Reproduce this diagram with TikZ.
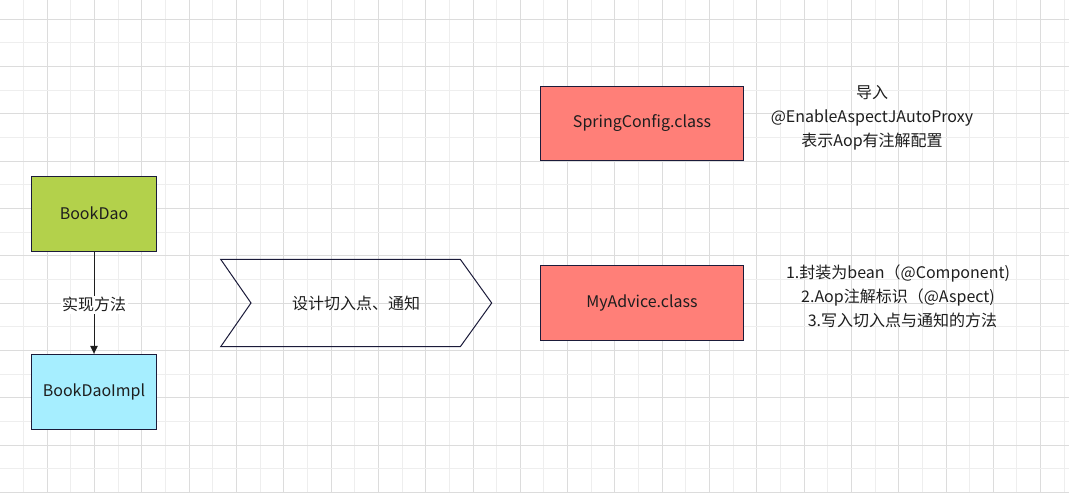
\documentclass[tikz,border=0pt]{standalone}
\usepackage{fontspec}
\setmainfont{Noto Sans CJK SC}
\usetikzlibrary{arrows.meta}
\definecolor{gridlight}{HTML}{EEEEEE}
\definecolor{griddark}{HTML}{DCDCDC}
\definecolor{edgec}{HTML}{1B1B3A}
\definecolor{daogreen}{HTML}{B3D14B}
\definecolor{implblue}{HTML}{A6EEFF}
\definecolor{clsred}{HTML}{FF7F78}
\definecolor{txt}{HTML}{1E1E1E}
\tikzset{
  x=1pt, y=-1pt,
  lbl/.style={font=\fontsize{16}{23.8}\selectfont, text=txt, inner sep=0pt},
  box/.style={draw=edgec, line width=1.1pt, minimum width=124.6pt, minimum height=74.7pt, inner sep=0pt, lbl},
  clsbox/.style={draw=edgec, line width=1.1pt, fill=clsred, minimum width=202.6pt, minimum height=74.8pt, inner sep=0pt, lbl},
  conn/.style={draw=txt, line width=1pt, -{Triangle[length=8pt,width=7.5pt]}},
  chev/.style={draw=edgec, line width=1pt}
}
\begin{document}
\begin{tikzpicture}
\useasboundingbox (0,0) rectangle (1069,493);
\fill[white] (0,0) rectangle (1069,493);
% grid
\foreach \k in {1,...,45}{
  \pgfmathsetmacro{\xx}{23.65*\k}
  \pgfmathparse{mod(\k,2)==0 ? 1 : 0}
  \ifnum\pgfmathresult=1
    \draw[griddark, line width=1pt] (\xx,0) -- (\xx,493);
  \else
    \draw[gridlight, line width=1pt] (\xx,0) -- (\xx,493);
  \fi
}
\foreach \j in {0,...,20}{
  \pgfmathsetmacro{\yy}{19.3+23.65*\j}
  \pgfmathparse{mod(\j,2)==0 ? 1 : 0}
  \ifnum\pgfmathresult=1
    \draw[griddark, line width=1pt] (0,\yy) -- (1069,\yy);
  \else
    \draw[gridlight, line width=1pt] (0,\yy) -- (1069,\yy);
  \fi
}
% left column
\node[box, fill=daogreen] (dao) at (94,213.7) {BookDao};
\node[box, fill=implblue] (impl) at (94,391.7) {BookDaoImpl};
\draw[conn] (dao) -- (impl) node[pos=0.52, fill=white, lbl, inner sep=1.5pt] (implm) {实现方法};
% chevron
\draw[chev] (220.7,259.3) -- (460.3,259.3) -- (491.7,303) -- (460.3,346.7) -- (220.7,346.7) -- (251,303) -- cycle;
\node[lbl] (design) at (356,303) {设计切入点、通知};
% class boxes
\node[clsbox] (spring) at (642,123.5) {SpringConfig.class};
\node[clsbox] (advice) at (642,302.7) {MyAdvice.class};
% notes
\node[lbl, align=center] (note1) at (872,118) {导入\\@EnableAspectJAutoProxy\\表示Aop有注解配置};
\node[lbl, align=center] (note2) at (898,296.3) {1.封装为bean（@Component)\\2.Aop注解标识（@Aspect)\\\hspace*{9pt}3.写入切入点与通知的方法};
\end{tikzpicture}
\end{document}
